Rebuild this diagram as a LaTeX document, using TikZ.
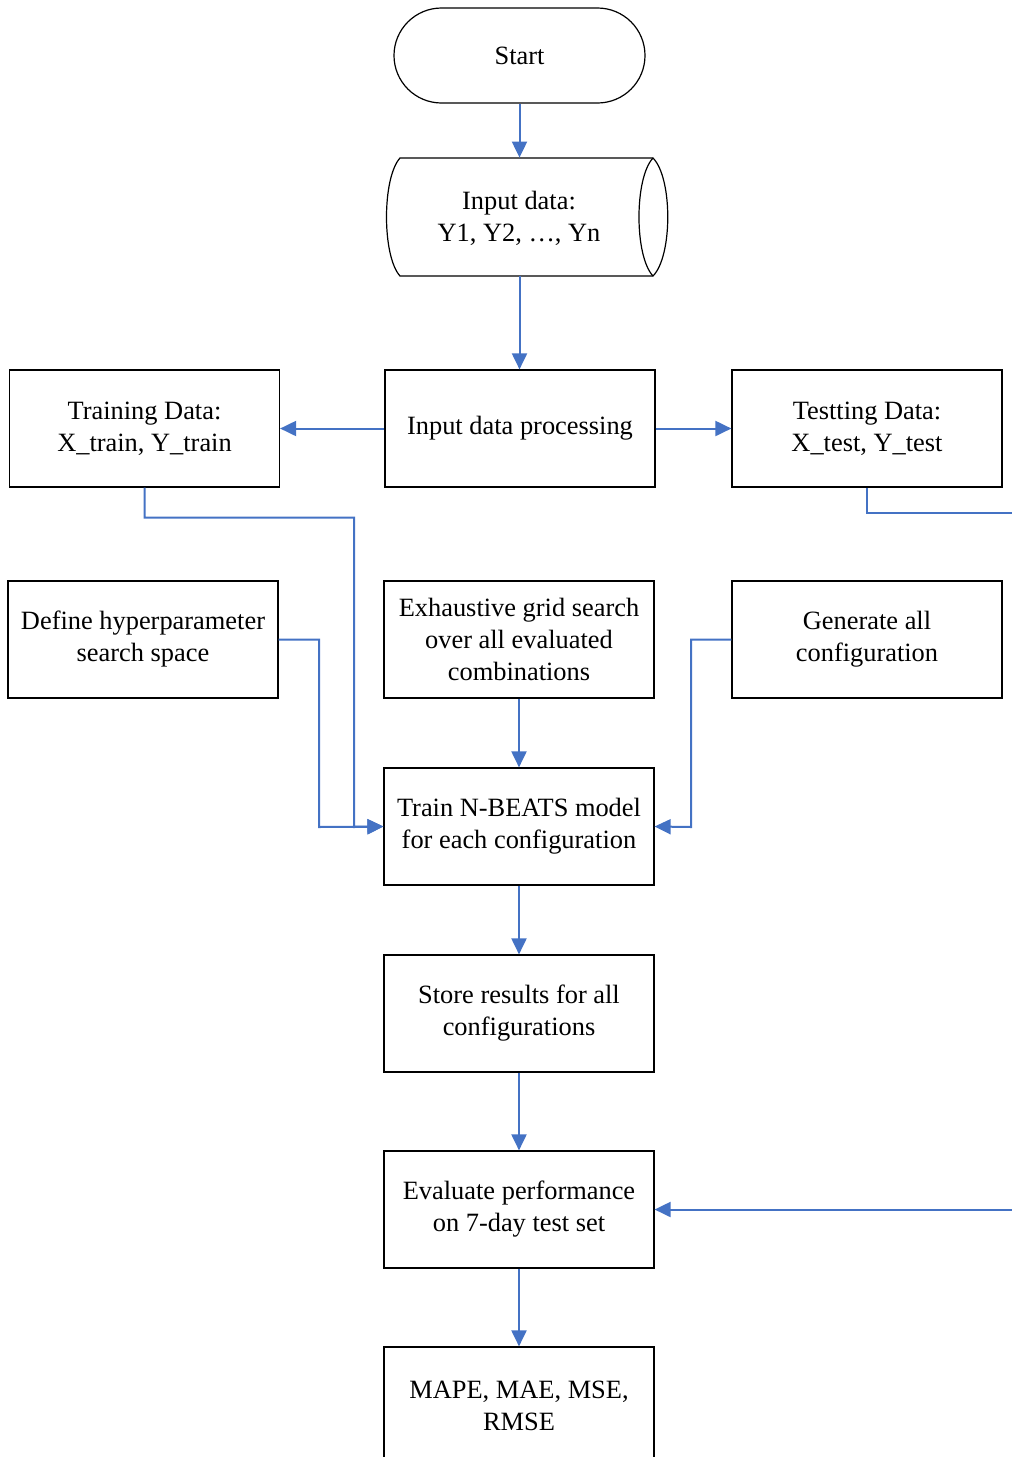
\documentclass[tikz,border=0pt]{standalone}
\usepackage{fontspec}
\setmainfont{Liberation Serif}
\usetikzlibrary{arrows.meta,calc}
\definecolor{lineblue}{HTML}{4472C4}
\begin{document}
\begin{tikzpicture}[x=0.5pt,y=-0.5pt,
  every node/.style={font=\fontsize{13.2}{16}\selectfont, align=center},
  box/.style={draw=black, line width=0.6pt, minimum width=135pt, minimum height=58.5pt, inner sep=0pt},
  conn/.style={draw=lineblue, line width=1pt},
  arr/.style={conn, -{Triangle[length=8pt,width=7.5pt]}}]
\useasboundingbox (0,0) rectangle (1012,1457);
\clip (0,0) rectangle (1012,1457);
% start
\node[draw=black, line width=0.6pt, rounded corners=23.75pt, minimum width=125.5pt, minimum height=47.5pt, inner sep=0pt] (start) at (519.5,55.5) {Start};
% input data (stored data shape)
\node[minimum width=126.5pt, minimum height=59pt, inner sep=0pt] (data) at (526.5,217) {};
\node at (519,218) {Input data:\\Y1, Y2, \ldots, Yn};
\draw[line width=0.6pt] (400,158) -- (653,158)
  .. controls (672.7,178) and (672.7,256) .. (653,276)
  -- (400,276)
  .. controls (382,256) and (382,178) .. (400,158) -- cycle;
\draw[line width=0.6pt] (653,158) .. controls (634.3,178) and (634.3,256) .. (653,276);
% row 1
\node[box] (proc) at (520,428.5) {Input data processing};
\node[box] (train) at (144.5,428.5) {Training Data:\\X\_train, Y\_train};
\node[box] (test) at (867,428.5) {Testting Data:\\X\_test, Y\_test};
% row 2
\node[box] (hyper) at (143,639.5) {Define hyperparameter\\search space};
\node[box] (grid) at (519,639.5) {Exhaustive grid search\\over all evaluated\\combinations};
\node[box] (gen) at (867,639.5) {Generate all\\configuration};
% column
\node[box] (nbeats) at (519,826.5) {Train N-BEATS model\\for each configuration};
\node[box] (store) at (519,1013.5) {Store results for all\\configurations};
\node[box] (eval) at (519,1209.5) {Evaluate performance\\on 7-day test set};
\node[box] (metrics) at (519,1405.5) {MAPE, MAE, MSE,\\RMSE};
\coordinate (farright) at (1040,513);
% connectors
\draw[arr] (start.south) -- (start.south |- data.north);
\draw[arr] (start.south |- data.south) -- (start.south |- proc.north);
\draw[arr] (proc.west) -- (train.east);
\draw[arr] (proc.east) -- (test.east -| test.west);
\draw[arr] (train.south) -- ++(0,30) -| (354,827) -- (nbeats.west);
\draw[arr] (hyper.east) -| (319,827) -- (nbeats.west);
\draw[arr] (grid.south) -- (nbeats.north);
\draw[arr] (gen.west) -| (691,827) -- (nbeats.east);
\draw[arr] (nbeats.south) -- (store.north);
\draw[arr] (store.south) -- (eval.north);
\draw[arr] (eval.south) -- (metrics.north);
\draw[arr] (test.south) |- (farright) |- (eval.east);
\end{tikzpicture}
\end{document}
